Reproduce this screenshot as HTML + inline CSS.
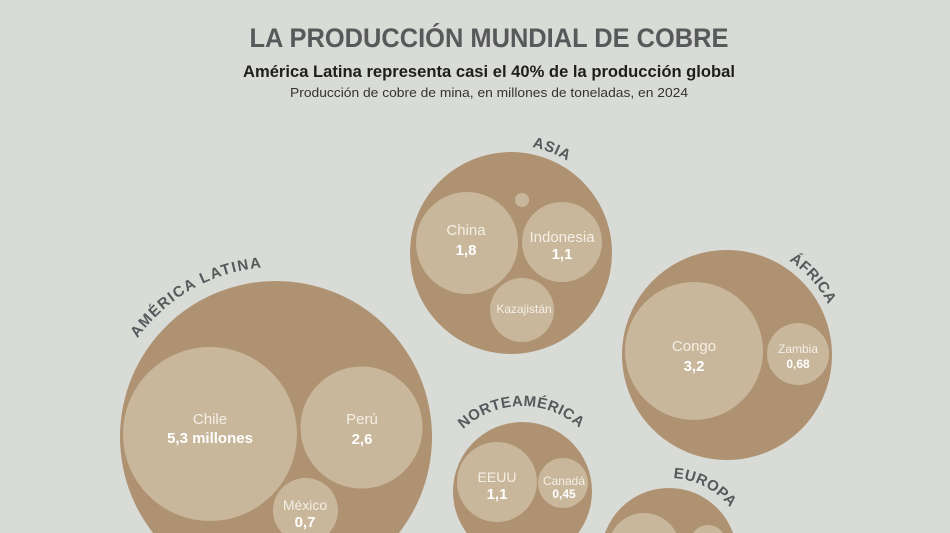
<!DOCTYPE html>
<html>
<head>
<meta charset="utf-8">
<style>
html,body{margin:0;padding:0;background:#d9dbd6;width:950px;height:533px;overflow:hidden;}
svg{display:block;}
.t{font-family:"Liberation Sans",sans-serif;}
.nm{font-family:"Liberation Sans",sans-serif;fill:#f4efe6;text-anchor:middle;}
.vl{font-family:"Liberation Sans",sans-serif;fill:#ffffff;font-weight:bold;text-anchor:middle;}
.lab{font-family:"Liberation Sans",sans-serif;fill:#56595c;font-weight:bold;font-size:15px;}
</style>
</head>
<body>
<svg width="950" height="533" viewBox="0 0 950 533" xmlns="http://www.w3.org/2000/svg">
<rect width="950" height="533" fill="#d9dbd6"/>
<defs>
<path id="pAL" d="M108.33,465.06 A170,170 0 0 1 386.41,307.73"/>
<path id="pAS" d="M430.11,181.44 A108,108 0 0 1 618.96,255.83"/>
<path id="pAF" d="M685.59,249.86 A113,113 0 0 1 826.31,408.92"/>
<path id="pNA" d="M440.93,463.29 A86,86 0 0 1 602.55,461.88"/>
<path id="pEU" d="M616.30,498.49 A78,78 0 0 1 746.33,566.18"/>
</defs>

<!-- Titles -->
<text class="t" x="489" y="47" text-anchor="middle" font-size="27" font-weight="bold" fill="#58595b" textLength="479" lengthAdjust="spacingAndGlyphs">LA PRODUCCIÓN MUNDIAL DE COBRE</text>
<text class="t" x="489" y="77" text-anchor="middle" font-size="17" font-weight="bold" fill="#1e1e1e" textLength="492" lengthAdjust="spacingAndGlyphs">América Latina representa casi el 40% de la producción global</text>
<text class="t" x="489" y="97" text-anchor="middle" font-size="13" fill="#333333" textLength="398" lengthAdjust="spacingAndGlyphs">Producción de cobre de mina, en millones de toneladas, en 2024</text>

<!-- ASIA -->
<circle cx="511" cy="253" r="101" fill="#ae9272"/>
<circle cx="467" cy="243" r="51" fill="#c9b79b"/>
<circle cx="562" cy="242" r="40" fill="#c9b79b"/>
<circle cx="522" cy="310" r="32" fill="#c9b79b"/>
<circle cx="522" cy="200" r="7" fill="#c9b79b"/>
<text class="nm" x="466" y="235" font-size="15">China</text>
<text class="vl" x="466" y="255" font-size="15">1,8</text>
<text class="nm" x="562" y="242" font-size="15">Indonesia</text>
<text class="vl" x="562" y="259" font-size="15">1,1</text>
<text class="nm" x="524" y="313" font-size="12">Kazajistán</text>
<text class="lab" letter-spacing="0.7"><textPath href="#pAS" startOffset="50%" text-anchor="middle">ASIA</textPath></text>

<!-- AMÉRICA LATINA -->
<circle cx="276" cy="437" r="156" fill="#ae9272"/>
<circle cx="210" cy="434" r="87" fill="#c9b79b"/>
<circle cx="361.5" cy="427.5" r="61" fill="#c9b79b"/>
<circle cx="305.5" cy="510.5" r="32.5" fill="#c9b79b"/>
<text class="nm" x="210" y="424" font-size="15">Chile</text>
<text class="vl" x="210" y="443" font-size="15">5,3 millones</text>
<text class="nm" x="362" y="424" font-size="15">Perú</text>
<text class="vl" x="362" y="444" font-size="15">2,6</text>
<text class="nm" x="305" y="510" font-size="14">México</text>
<text class="vl" x="305" y="527" font-size="15">0,7</text>
<text class="lab" letter-spacing="1.5"><textPath href="#pAL" startOffset="50%" text-anchor="middle">AMÉRICA LATINA</textPath></text>

<!-- ÁFRICA -->
<circle cx="727" cy="355" r="105" fill="#ae9272"/>
<circle cx="694" cy="351" r="69" fill="#c9b79b"/>
<circle cx="798" cy="354" r="31" fill="#c9b79b"/>
<text class="nm" x="694" y="351" font-size="15">Congo</text>
<text class="vl" x="694" y="371" font-size="15">3,2</text>
<text class="nm" x="798" y="353" font-size="12">Zambia</text>
<text class="vl" x="798" y="368" font-size="12">0,68</text>
<text class="lab" letter-spacing="0.55"><textPath href="#pAF" startOffset="50%" text-anchor="middle">ÁFRICA</textPath></text>

<!-- NORTEAMÉRICA -->
<circle cx="522.5" cy="491.5" r="69.5" fill="#ae9272"/>
<circle cx="497" cy="482" r="40" fill="#c9b79b"/>
<circle cx="563" cy="483" r="25" fill="#c9b79b"/>
<text class="nm" x="497" y="482" font-size="14">EEUU</text>
<text class="vl" x="497" y="499" font-size="15">1,1</text>
<text class="nm" x="564" y="485" font-size="12">Canadá</text>
<text class="vl" x="564" y="498" font-size="12">0,45</text>
<text class="lab" letter-spacing="0.45"><textPath href="#pNA" startOffset="50%" text-anchor="middle">NORTEAMÉRICA</textPath></text>

<!-- EUROPA -->
<circle cx="669" cy="556" r="68" fill="#ae9272"/>
<circle cx="644" cy="549" r="36" fill="#c9b79b"/>
<circle cx="708" cy="543" r="18" fill="#c9b79b"/>
<text class="lab" letter-spacing="0.55"><textPath href="#pEU" startOffset="50%" text-anchor="middle">EUROPA</textPath></text>
</svg>
</body>
</html>
